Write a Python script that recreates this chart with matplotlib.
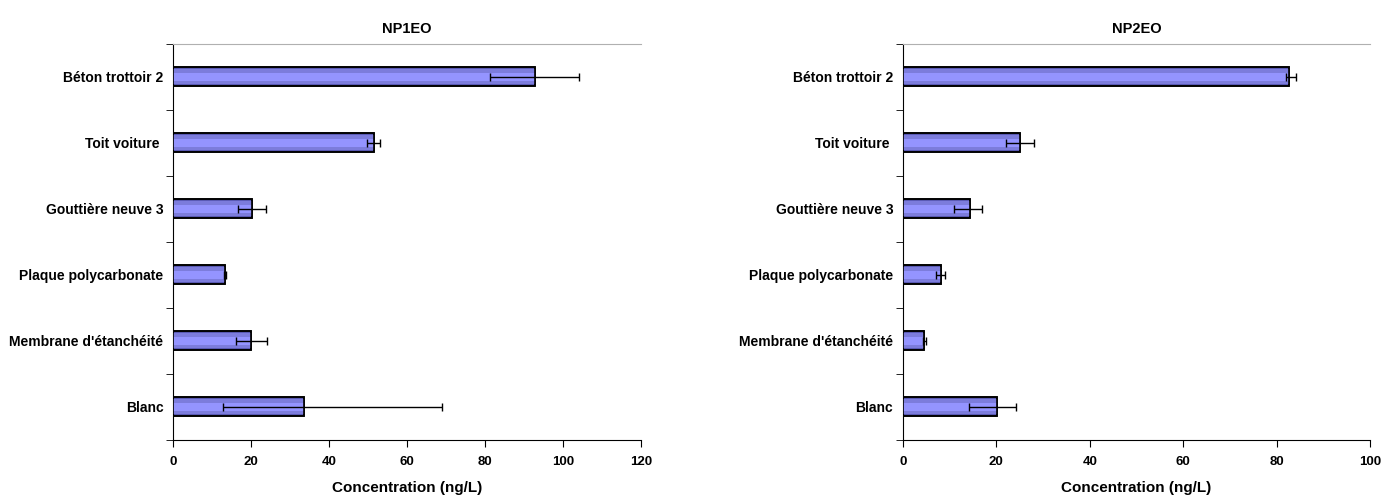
import numpy as np
import matplotlib.pyplot as plt

plt.rcParams['font.family'] = ['Liberation Sans', 'DejaVu Sans']
plt.rcParams['font.weight'] = 'bold'

categories = ['Blanc', "Membrane d'étanchéité", 'Plaque polycarbonate',
              'Gouttière neuve 3', 'Toit voiture ', 'Béton trottoir 2']

np1eo = [33.6, 20.1, 13.4, 20.3, 51.6, 92.8]
np1eo_lo = [20.7, 3.9, 0.3, 3.7, 1.8, 11.4]
np1eo_hi = [35.3, 4.0, 0.3, 3.6, 1.6, 11.3]

np2eo = [20.1, 4.6, 8.2, 14.4, 25.0, 82.7]
np2eo_lo = [5.9, 0.4, 1.2, 3.4, 3.0, 0.6]
np2eo_hi = [4.0, 0.4, 0.8, 2.6, 3.0, 1.4]

fig = plt.figure(figsize=(13.83, 4.95), dpi=100)
ax1 = fig.add_axes([0.1251, 0.1117, 0.3384, 0.80])
ax2 = fig.add_axes([0.6529, 0.1117, 0.3377, 0.80])

pos = np.arange(len(categories))

def draw(ax, vals, lo, hi, title, xmax):
    # fake the excel gradient with stacked bars
    ax.barh(pos, vals, height=0.29, color='#5a5ab4', edgecolor='black', linewidth=1.2, zorder=2)
    ax.barh(pos, vals, height=0.22, color='#7c7cdc', linewidth=0, zorder=3)
    ax.barh(pos, vals, height=0.12, color='#9494ff', linewidth=0, zorder=4)
    ax.barh(pos, vals, height=0.29, color='none', edgecolor='black', linewidth=1.2, zorder=5)
    ax.errorbar(vals, pos, xerr=[lo, hi], fmt='none', ecolor='black',
                elinewidth=1, capsize=3, capthick=1, zorder=6)
    ax.set_xlim(0, xmax)
    ax.set_ylim(-0.5, len(categories) - 0.5)
    ax.set_xticks(np.arange(0, xmax + 1, 20))
    ax.set_yticks(pos)
    ax.set_yticklabels(categories)
    ax.set_yticks(np.arange(-0.5, len(categories), 1), minor=True)
    ax.tick_params(axis='y', which='major', length=0, labelsize=10, pad=7)
    ax.tick_params(axis='y', which='minor', length=5, direction='out')
    ax.tick_params(axis='x', length=5, direction='out', labelsize=9.5, pad=7)
    ax.spines['top'].set_color('#b0b0b0')
    ax.spines['right'].set_visible(False)
    ax.set_xlabel('Concentration (ng/L)', fontsize=11, fontweight='bold', labelpad=9)
    ax.set_title(title, fontsize=10.5, fontweight='bold', pad=8)

draw(ax1, np1eo, np1eo_lo, np1eo_hi, 'NP1EO', 120)
draw(ax2, np2eo, np2eo_lo, np2eo_hi, 'NP2EO', 100)

fig.savefig('out.png', dpi=100)
